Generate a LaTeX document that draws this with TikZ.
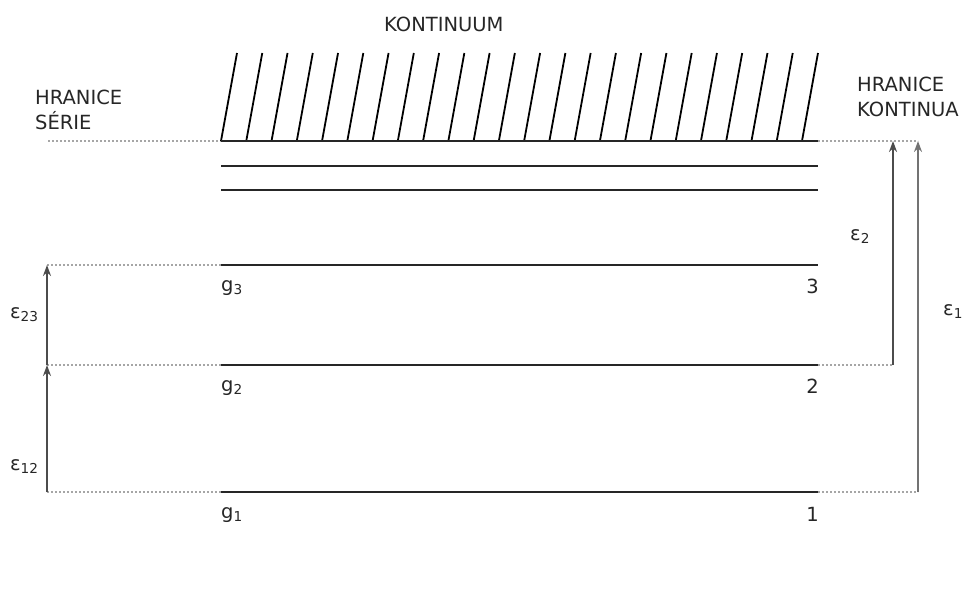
\documentclass[tikz,border=0pt]{standalone}
\usepackage{fontspec}
\setmainfont{DejaVu Sans}
\usetikzlibrary{arrows.meta}
\begin{document}
\begin{tikzpicture}[x=1pt,y=-1pt,
  level/.style={line width=2.6pt,draw=black!85},
  hatchline/.style={line width=1.8pt,draw=black},
  guide/.style={line width=1.6pt,draw=black!35,dash pattern=on 2pt off 2pt},
  energy/.style={line width=2pt,draw=black!70,-{Stealth[length=11pt,width=8pt]}},
  lbl/.style={inner sep=0pt,font=\fontsize{19.5}{24}\selectfont,text=black!85}]
\useasboundingbox (0,0) rectangle (965,605);
% coordinates
\coordinate (cL) at (221,141); \coordinate (cR) at (818,141);
\coordinate (aL) at (221,166); \coordinate (aR) at (818,166);
\coordinate (bL) at (221,190); \coordinate (bR) at (818,190);
\coordinate (l3L) at (221,265); \coordinate (l3R) at (818,265);
\coordinate (l2L) at (221,365); \coordinate (l2R) at (818,365);
\coordinate (l1L) at (221,492); \coordinate (l1R) at (818,492);
\coordinate (s0) at (48,141);
\coordinate (s3) at (47,265);
\coordinate (s2) at (47,365);
\coordinate (s1) at (47,492);
\coordinate (k2top) at (893,141); \coordinate (k2bot) at (893,365);
\coordinate (k1top) at (918,141); \coordinate (k1bot) at (918,492);
% guides (dotted)
\draw[guide] (s0) -- (cL);
\draw[guide] (cR) -- (k1top);
\draw[guide] (s3) -- (l3L);
\draw[guide] (s2) -- (l2L);
\draw[guide] (l2R) -- (k2bot);
\draw[guide] (s1) -- (l1L);
\draw[guide] (l1R) -- (k1bot);
% hatching
\foreach \i in {0,...,23}{
  \draw[hatchline] ({221+25.26*\i},141) -- ({237+25.26*\i},53);
}
% levels
\draw[level] (cL) -- (cR);
\draw[level] (aL) -- (aR);
\draw[level] (bL) -- (bR);
\draw[level] (l3L) -- (l3R);
\draw[level] (l2L) -- (l2R);
\draw[level] (l1L) -- (l1R);
% arrows
\draw[energy] (s2) -- (s3);
\draw[energy] (s1) -- (s2);
\draw[energy] (k2bot) -- (k2top);
\draw[energy,draw=black!55] (k1bot) -- (k1top);
% labels
\node[lbl,anchor=base west] (kont) at (384,31) {KONTINUUM};
\node[lbl,anchor=base west] (hs1) at (35,104) {HRANICE};
\node[lbl,anchor=base west] (hs2) at (35,129) {SÉRIE};
\node[lbl,anchor=base west] (hk1) at (857,91) {HRANICE};
\node[lbl,anchor=base west] (hk2) at (857,116) {KONTINUA};
\node[lbl,anchor=base west] (g3) at (221,291) {g\textsubscript{3}};
\node[lbl,anchor=base west] (g2) at (221,391) {g\textsubscript{2}};
\node[lbl,anchor=base west] (g1) at (221,518) {g\textsubscript{1}};
\node[lbl,anchor=base east] (n3) at (819,293) {3};
\node[lbl,anchor=base east] (n2) at (819,393) {2};
\node[lbl,anchor=base east] (n1) at (819,521) {1};
\node[lbl,anchor=base west] (e23) at (10,318) {ε\textsubscript{23}};
\node[lbl,anchor=base west] (e12) at (10,470) {ε\textsubscript{12}};
\node[lbl,anchor=base west] (e2) at (850,240) {ε\textsubscript{2}};
\node[lbl,anchor=base west] (e1) at (943,315) {ε\textsubscript{1}};
\end{tikzpicture}
\end{document}
